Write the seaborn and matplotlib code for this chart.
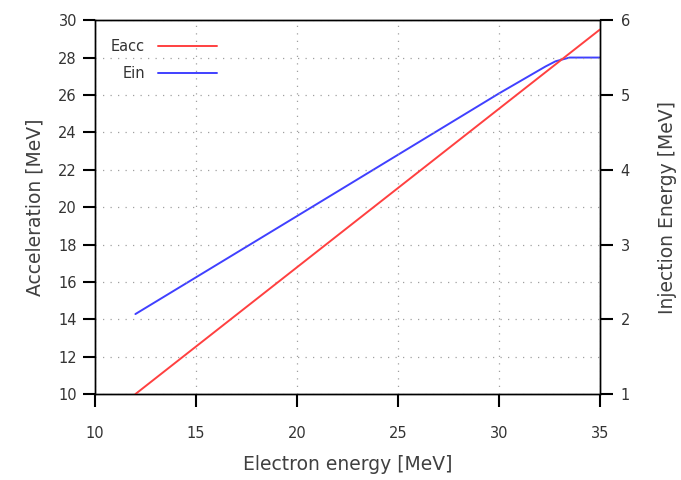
import numpy as np
import pandas as pd
import seaborn as sns
import matplotlib
matplotlib.use('Agg')
import matplotlib.pyplot as plt

# datos
energia_eacc = [12, 35]
eacc = [10.0, 29.5]

energia_ein = [12, 20, 25, 30, 32.3, 32.8, 33.5, 35]
ein = [2.07, 3.38, 4.2, 5.02, 5.38, 5.45, 5.5, 5.5]

x_ticks = [10, 15, 20, 25, 30, 35]
y_izq_ticks = [10, 12, 14, 16, 18, 20, 22, 24, 26, 28, 30]
y_der_ticks = [1, 2, 3, 4, 5, 6]

df_acc = pd.DataFrame({'energia': energia_eacc, 'valor': eacc})
df_in = pd.DataFrame({'energia': energia_ein, 'valor': ein})

sns.set_style('ticks')
plt.rcParams['font.family'] = ['DejaVu Sans']

fig = plt.figure(figsize=(6.81, 4.8), dpi=100)
ax = fig.add_axes([0.1395, 0.179, 0.7415, 0.779])
ax2 = ax.twinx()
# eje principal por encima del gemelo
ax.set_zorder(ax2.get_zorder() + 1)
ax.patch.set_visible(False)

sns.lineplot(data=df_acc, x='energia', y='valor', ax=ax, color='#ff4040', lw=1.4, label='Eacc', legend=False)
sns.lineplot(data=df_in, x='energia', y='valor', ax=ax2, color='#4040ff', lw=1.4, label='Ein', legend=False)

ax.set_xlim(10, 35)
ax.set_ylim(10, 30)
ax2.set_ylim(1, 6)
ax.set_xticks(x_ticks)
ax.set_yticks(y_izq_ticks)
ax2.set_yticks(y_der_ticks)

ax.grid(True, ls=(0, (1, 5)), color='#a0a0a0', lw=0.9)
ax2.grid(False)

for a in (ax, ax2):
    for s in a.spines.values():
        s.set_color('black')
        s.set_linewidth(1.0)
# marcas mas gruesas: con 1 px a veces no se dibujaban
ax.tick_params(axis='x', direction='out', length=9, width=1.5, color='black',
               labelcolor='#333333', labelsize=10.5, bottom=True, top=False, pad=14)
ax.tick_params(axis='y', direction='out', length=9, width=1.5, color='black',
               labelcolor='#333333', labelsize=10.5, left=True, right=False, pad=4)
ax2.tick_params(axis='y', direction='out', length=9, width=1.5, color='black',
                labelcolor='#333333', labelsize=10.5, right=True, left=False, pad=6)

for eje in (ax.xaxis, ax.yaxis, ax2.yaxis):
    for t in eje.get_major_ticks():
        t.tick1line.set_clip_on(False)
        t.tick2line.set_clip_on(False)

ax.set_xlabel('Electron energy [MeV]', fontsize=13.5, color='#404040', labelpad=10)
ax.set_ylabel('Acceleration [MeV]', fontsize=13.5, color='#404040', labelpad=10)
ax2.set_ylabel('Injection Energy [MeV]', fontsize=13.5, color='#404040', labelpad=20)

h1, l1 = ax.get_legend_handles_labels()
h2, l2 = ax2.get_legend_handles_labels()
leg = ax.legend(h1 + h2, l1 + l2, loc='upper left', frameon=False, markerfirst=False,
                fontsize=10.5, handlelength=4.0, handletextpad=0.9, borderaxespad=0.0,
                labelspacing=0.8, bbox_to_anchor=(0.02, 0.965))
for t in leg.get_texts():
    t.set_color('#333333')

fig.savefig('out.png', dpi=100)
